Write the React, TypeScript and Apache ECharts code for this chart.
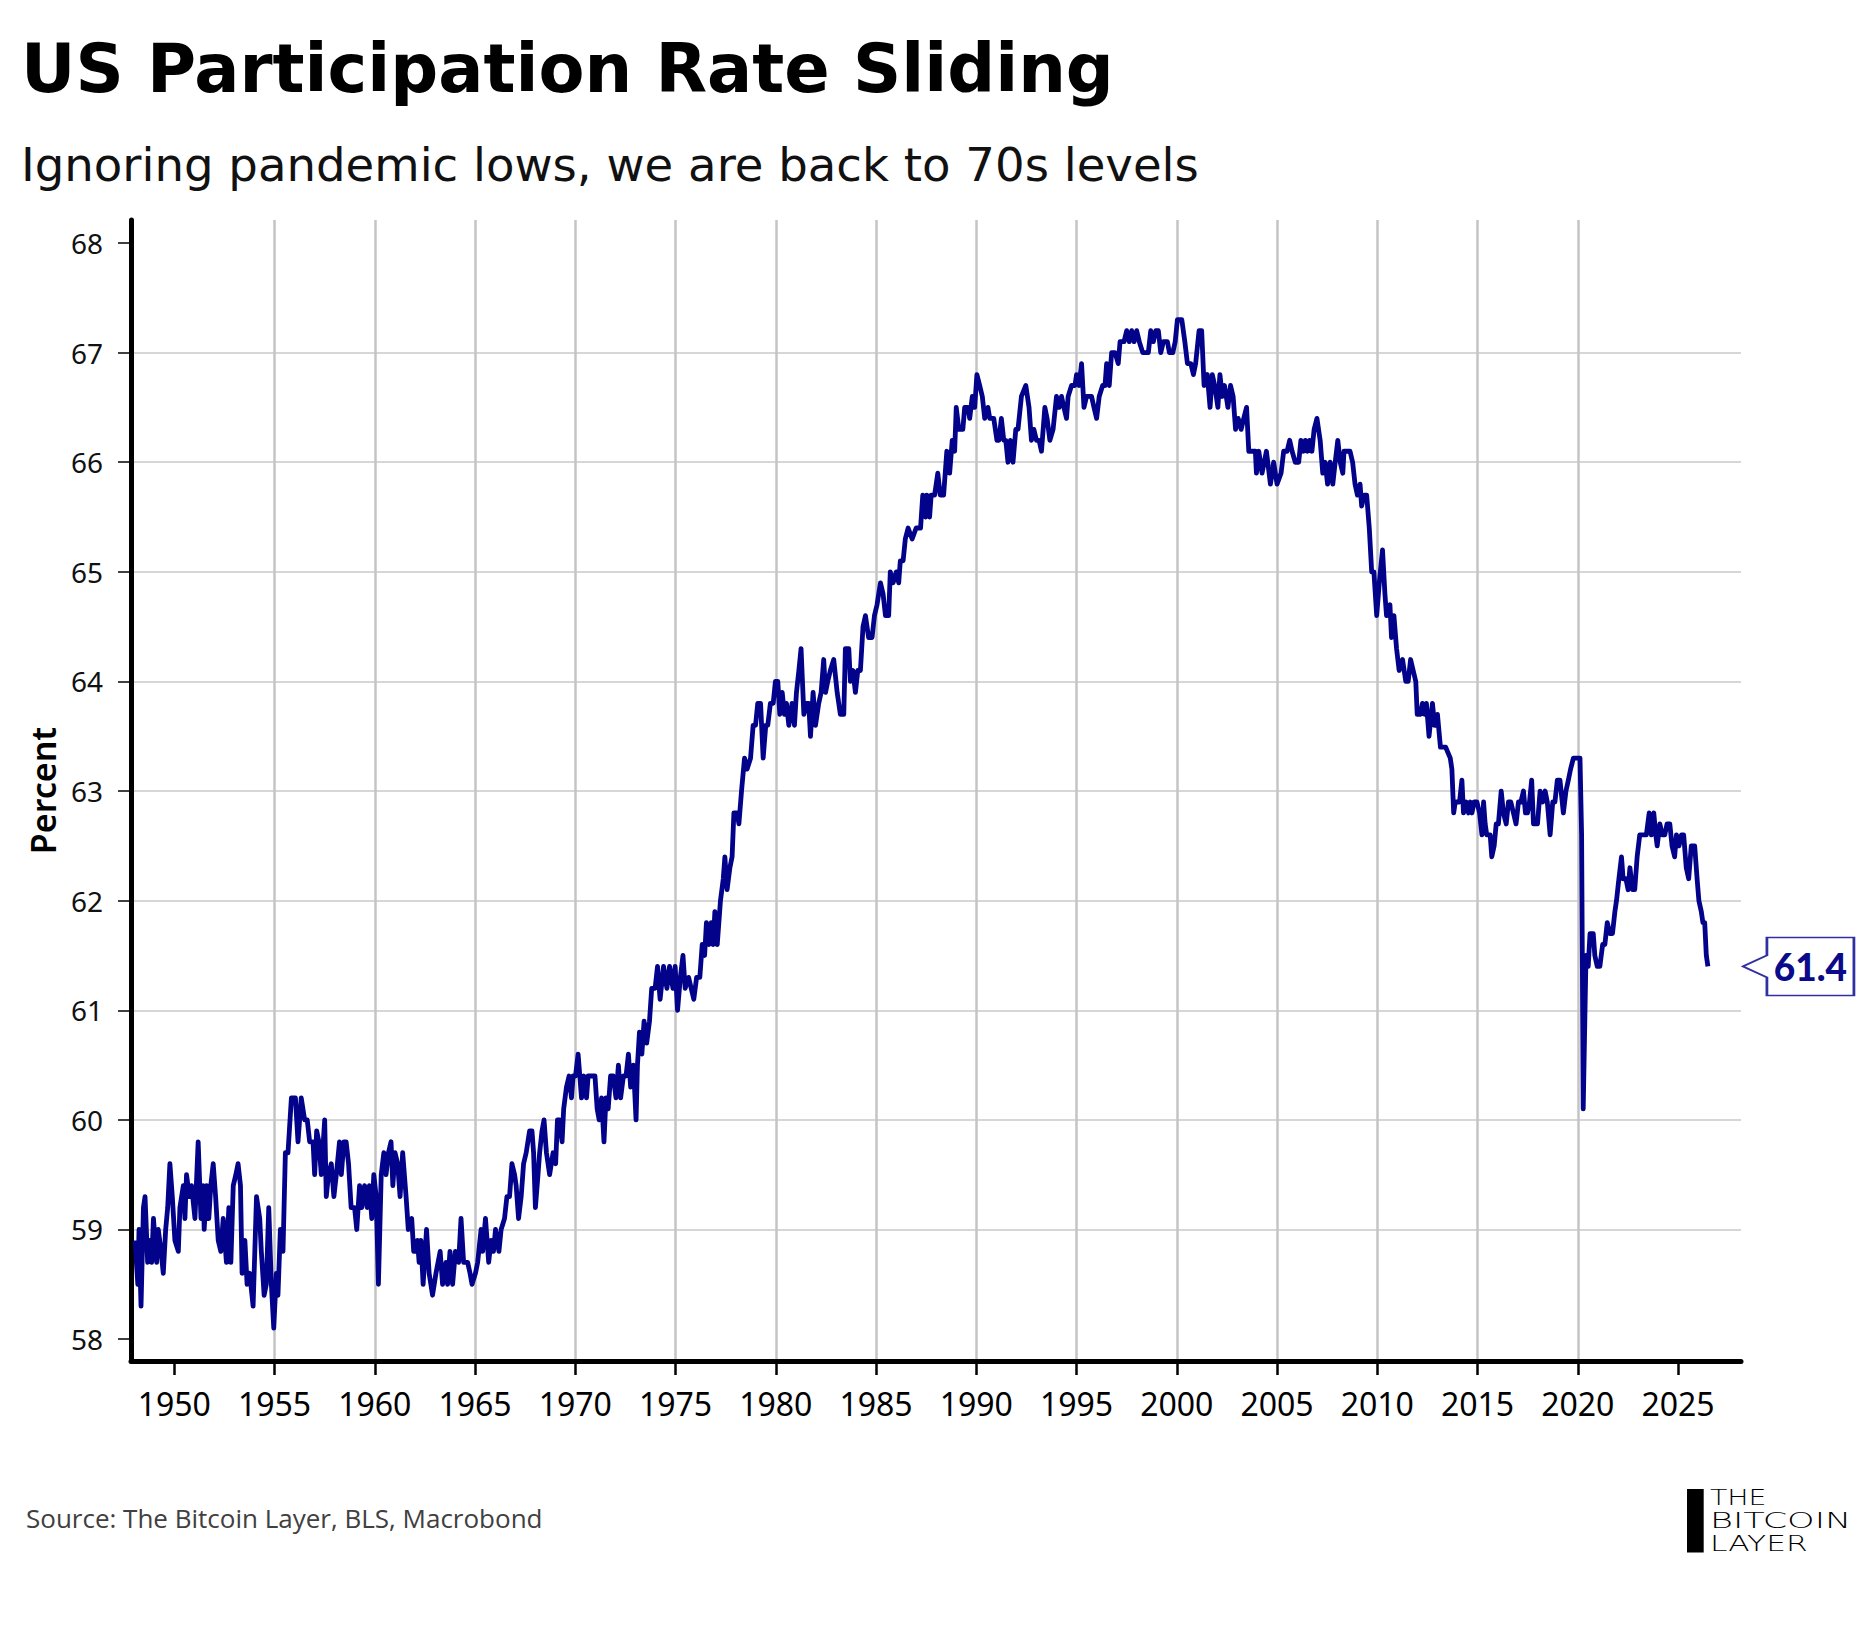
import React, { useEffect, useRef } from "react";
import * as echarts from "echarts";

const TITLE = "US Participation Rate Sliding";
const SUBTITLE = "Ignoring pandemic lows, we are back to 70s levels";
const SOURCE = "Source: The Bitcoin Layer, BLS, Macrobond";
const Y_NAME = "Percent";
const LOGO_LINES = ["THE", "BITCOIN", "LAYER"];

const X_TICKS = [1950, 1955, 1960, 1965, 1970, 1975, 1980, 1985, 1990, 1995, 2000, 2005, 2010, 2015, 2020, 2025];
const Y_TICKS = [58, 59, 60, 61, 62, 63, 64, 65, 66, 67, 68];

// [decimal year, participation rate %]
const SEG_1948_1961 = [
  [1948.04, 58.9], [1948.18, 58.5], [1948.24, 59.0], [1948.34, 58.3], [1948.46, 59.2], [1948.54, 59.3], [1948.67, 58.7], [1948.79, 58.9], [1948.87, 58.7], [1948.96, 59.1],
  [1949.12, 58.7], [1949.2, 59.0], [1949.34, 58.8], [1949.45, 58.6], [1949.57, 59.0], [1949.67, 59.2], [1949.78, 59.6], [1949.9, 59.3], [1950.03, 58.9], [1950.2, 58.8],
  [1950.28, 59.2], [1950.45, 59.4], [1950.53, 59.1], [1950.61, 59.5], [1950.75, 59.3], [1950.86, 59.4], [1951.03, 59.1], [1951.19, 59.8], [1951.33, 59.1], [1951.44, 59.4],
  [1951.49, 59.0], [1951.61, 59.4], [1951.72, 59.1], [1951.82, 59.4], [1951.94, 59.6], [1952.06, 59.3], [1952.19, 58.9], [1952.32, 58.8], [1952.44, 59.1], [1952.6, 58.7],
  [1952.72, 59.2], [1952.82, 58.7], [1952.94, 59.4], [1953.07, 59.5], [1953.18, 59.6], [1953.3, 59.4], [1953.38, 58.6], [1953.52, 58.9], [1953.63, 58.5], [1953.76, 58.6],
  [1953.93, 58.3], [1954.1, 59.3], [1954.26, 59.1], [1954.34, 58.8], [1954.48, 58.4], [1954.59, 58.5], [1954.71, 59.2], [1954.84, 58.5], [1954.96, 58.1], [1955.09, 58.6],
  [1955.17, 58.4], [1955.29, 59.0], [1955.42, 58.8], [1955.54, 59.7], [1955.67, 59.7], [1955.84, 60.2], [1956.04, 60.2], [1956.17, 59.8], [1956.33, 60.2], [1956.5, 60.0],
  [1956.63, 60.0], [1956.75, 59.8], [1956.92, 59.8], [1957.0, 59.5], [1957.1, 59.9], [1957.21, 59.8], [1957.33, 59.5], [1957.5, 60.0], [1957.58, 59.3], [1957.69, 59.5],
  [1957.83, 59.6], [1957.96, 59.3], [1958.08, 59.5], [1958.24, 59.8], [1958.33, 59.5], [1958.46, 59.8], [1958.57, 59.8], [1958.69, 59.6], [1958.82, 59.2], [1958.99, 59.2],
  [1959.1, 59.0], [1959.24, 59.4], [1959.35, 59.2], [1959.49, 59.4], [1959.62, 59.2], [1959.73, 59.4], [1959.85, 59.1], [1959.95, 59.5], [1960.07, 59.3], [1960.18, 58.5],
  [1960.32, 59.5], [1960.45, 59.7], [1960.56, 59.5], [1960.68, 59.7], [1960.81, 59.8], [1960.9, 59.4], [1961.01, 59.7], [1961.14, 59.6], [1961.26, 59.3], [1961.39, 59.7],
  [1961.56, 59.3], [1961.67, 59.0], [1961.84, 59.1], [1961.94, 58.8],
];

const SEG_1962_1975 = [
  [1962.05, 58.8], [1962.13, 58.9], [1962.21, 58.7], [1962.3, 58.9], [1962.41, 58.5], [1962.58, 59.0], [1962.71, 58.6], [1962.88, 58.4], [1963.05, 58.6], [1963.26, 58.8],
  [1963.38, 58.5], [1963.55, 58.7], [1963.63, 58.5], [1963.75, 58.8], [1963.88, 58.5], [1964.02, 58.8], [1964.18, 58.7], [1964.3, 59.1], [1964.43, 58.7], [1964.63, 58.7],
  [1964.75, 58.6], [1964.85, 58.5], [1965.02, 58.6], [1965.13, 58.7], [1965.3, 59.0], [1965.38, 58.8], [1965.52, 59.1], [1965.68, 58.7], [1965.8, 58.9], [1965.92, 58.8],
  [1966.02, 59.0], [1966.19, 58.8], [1966.3, 59.0], [1966.47, 59.1], [1966.59, 59.3], [1966.72, 59.3], [1966.84, 59.6], [1966.97, 59.5], [1967.05, 59.4], [1967.17, 59.1],
  [1967.3, 59.3], [1967.42, 59.6], [1967.55, 59.7], [1967.72, 59.9], [1967.84, 59.9], [1967.92, 59.7], [1968.01, 59.2], [1968.14, 59.5], [1968.22, 59.7], [1968.34, 59.9],
  [1968.44, 60.0], [1968.56, 59.7], [1968.72, 59.5], [1968.89, 59.7], [1969.02, 59.6], [1969.11, 60.0], [1969.22, 60.0], [1969.34, 59.8], [1969.42, 60.1], [1969.56, 60.3],
  [1969.69, 60.4], [1969.81, 60.2], [1969.89, 60.4], [1970.01, 60.4], [1970.14, 60.6], [1970.31, 60.2], [1970.43, 60.4], [1970.56, 60.2], [1970.64, 60.4], [1970.81, 60.4],
  [1970.98, 60.4], [1971.09, 60.1], [1971.19, 60.0], [1971.31, 60.2], [1971.43, 59.8], [1971.53, 60.2], [1971.64, 60.1], [1971.76, 60.4], [1971.89, 60.4], [1972.03, 60.2],
  [1972.15, 60.5], [1972.26, 60.2], [1972.4, 60.4], [1972.53, 60.4], [1972.65, 60.6], [1972.76, 60.3], [1972.9, 60.5], [1973.03, 60.0], [1973.1, 60.5], [1973.2, 60.8],
  [1973.32, 60.6], [1973.43, 60.9], [1973.56, 60.7], [1973.7, 60.9], [1973.81, 61.2], [1973.98, 61.2], [1974.1, 61.4], [1974.23, 61.1], [1974.4, 61.4], [1974.57, 61.2],
  [1974.7, 61.4], [1974.87, 61.2], [1974.98, 61.4], [1975.1, 61.0], [1975.24, 61.3], [1975.37, 61.5], [1975.48, 61.2], [1975.65, 61.3],
];

const SEG_1976_1987 = [
  [1975.91, 61.1], [1976.05, 61.3], [1976.21, 61.3], [1976.33, 61.6], [1976.45, 61.5], [1976.54, 61.8], [1976.66, 61.6], [1976.78, 61.8], [1976.88, 61.6], [1976.96, 61.9],
  [1977.08, 61.6], [1977.24, 62.0], [1977.38, 62.2], [1977.46, 62.4], [1977.57, 62.1], [1977.71, 62.3], [1977.82, 62.4], [1977.91, 62.8], [1978.07, 62.8], [1978.16, 62.7],
  [1978.29, 63.0], [1978.44, 63.3], [1978.57, 63.2], [1978.74, 63.3], [1978.87, 63.6], [1978.99, 63.6], [1979.1, 63.8], [1979.24, 63.8], [1979.37, 63.3], [1979.5, 63.6],
  [1979.6, 63.6], [1979.73, 63.8], [1979.87, 63.8], [1979.98, 64.0], [1980.1, 64.0], [1980.2, 63.7], [1980.32, 63.9], [1980.43, 63.7], [1980.53, 63.8], [1980.65, 63.6],
  [1980.81, 63.8], [1980.93, 63.6], [1981.03, 63.9], [1981.15, 64.1], [1981.26, 64.3], [1981.4, 63.7], [1981.53, 63.8], [1981.64, 63.8], [1981.73, 63.5], [1981.86, 63.9],
  [1981.98, 63.6], [1982.14, 63.8], [1982.26, 63.9], [1982.39, 64.2], [1982.48, 63.9], [1982.59, 64.0], [1982.72, 64.1], [1982.89, 64.2], [1983.06, 63.9], [1983.22, 63.7],
  [1983.39, 63.7], [1983.47, 64.3], [1983.64, 64.3], [1983.72, 64.0], [1983.85, 64.1], [1983.97, 63.9], [1984.09, 64.1], [1984.22, 64.1], [1984.35, 64.5], [1984.47, 64.6],
  [1984.63, 64.4], [1984.8, 64.4], [1984.92, 64.6], [1985.05, 64.7], [1985.22, 64.9], [1985.35, 64.8], [1985.47, 64.6], [1985.63, 64.6], [1985.71, 65.0], [1985.85, 64.9],
  [1986.01, 65.0], [1986.13, 64.9], [1986.21, 65.1], [1986.35, 65.1], [1986.46, 65.3], [1986.6, 65.4], [1986.8, 65.3], [1987.0, 65.4],
];

const SEG_1987_2000 = [
  [1987.22, 65.4], [1987.33, 65.7], [1987.47, 65.5], [1987.53, 65.7], [1987.67, 65.5], [1987.75, 65.7], [1987.92, 65.7], [1988.08, 65.9], [1988.2, 65.7], [1988.37, 65.7],
  [1988.53, 66.1], [1988.67, 65.9], [1988.8, 66.2], [1988.92, 66.1], [1989.0, 66.5], [1989.13, 66.3], [1989.33, 66.3], [1989.42, 66.5], [1989.58, 66.5], [1989.67, 66.4],
  [1989.8, 66.6], [1989.92, 66.5], [1990.03, 66.8], [1990.17, 66.7], [1990.3, 66.6], [1990.42, 66.4], [1990.58, 66.5], [1990.67, 66.4], [1990.87, 66.4], [1991.03, 66.2],
  [1991.13, 66.2], [1991.25, 66.4], [1991.37, 66.2], [1991.47, 66.2], [1991.58, 66.0], [1991.7, 66.2], [1991.83, 66.0], [1991.97, 66.3], [1992.08, 66.3], [1992.25, 66.6],
  [1992.47, 66.7], [1992.63, 66.5], [1992.75, 66.2], [1992.87, 66.3], [1993.0, 66.2], [1993.13, 66.2], [1993.25, 66.1], [1993.42, 66.5], [1993.53, 66.4], [1993.67, 66.2],
  [1993.83, 66.3], [1994.0, 66.6], [1994.13, 66.5], [1994.25, 66.6], [1994.37, 66.5], [1994.5, 66.4], [1994.58, 66.6], [1994.75, 66.7], [1994.92, 66.7], [1995.0, 66.8],
  [1995.13, 66.7], [1995.25, 66.9], [1995.37, 66.5], [1995.5, 66.6], [1995.75, 66.6], [1995.87, 66.5], [1996.0, 66.4], [1996.13, 66.6], [1996.3, 66.7], [1996.42, 66.7],
  [1996.5, 66.9], [1996.63, 66.7], [1996.75, 67.0], [1996.92, 67.0], [1997.08, 66.9], [1997.17, 67.1], [1997.37, 67.1], [1997.5, 67.2], [1997.63, 67.1], [1997.75, 67.2],
  [1997.87, 67.1], [1998.0, 67.2], [1998.13, 67.1], [1998.3, 67.0], [1998.58, 67.0], [1998.7, 67.2], [1998.83, 67.1], [1998.95, 67.2], [1999.08, 67.2], [1999.2, 67.0],
  [1999.33, 67.1], [1999.53, 67.1], [1999.63, 67.0], [1999.8, 67.0], [1999.92, 67.1], [2000.03, 67.3], [2000.25, 67.3],
];

const SEG_2000_2013 = [
  [2000.4, 67.1], [2000.53, 66.9], [2000.7, 66.9], [2000.83, 66.8], [2000.94, 66.9], [2001.11, 67.2], [2001.24, 67.2], [2001.36, 66.7], [2001.52, 66.8], [2001.66, 66.5],
  [2001.77, 66.8], [2001.89, 66.7], [2002.05, 66.5], [2002.15, 66.8], [2002.27, 66.6], [2002.38, 66.7], [2002.55, 66.5], [2002.68, 66.7], [2002.81, 66.6], [2002.93, 66.3],
  [2003.06, 66.4], [2003.21, 66.3], [2003.34, 66.4], [2003.48, 66.5], [2003.59, 66.1], [2003.76, 66.1], [2003.92, 66.1], [2003.97, 65.9], [2004.09, 66.1], [2004.25, 65.9],
  [2004.47, 66.1], [2004.67, 65.8], [2004.83, 66.0], [2005.0, 65.8], [2005.2, 65.9], [2005.33, 66.1], [2005.5, 66.1], [2005.63, 66.2], [2005.75, 66.1], [2005.91, 66.0],
  [2006.08, 66.0], [2006.19, 66.2], [2006.32, 66.1], [2006.41, 66.2], [2006.52, 66.1], [2006.62, 66.2], [2006.74, 66.1], [2006.85, 66.3], [2006.99, 66.4], [2007.15, 66.2],
  [2007.28, 65.9], [2007.4, 66.0], [2007.52, 65.8], [2007.65, 66.0], [2007.78, 65.8], [2007.9, 66.0], [2008.03, 66.2], [2008.15, 66.0], [2008.28, 65.9], [2008.34, 66.1],
  [2008.48, 66.1], [2008.64, 66.1], [2008.77, 66.0], [2008.89, 65.8], [2009.01, 65.7], [2009.14, 65.8], [2009.22, 65.6], [2009.34, 65.7], [2009.47, 65.7], [2009.6, 65.4],
  [2009.72, 65.0], [2009.83, 65.0], [2009.97, 64.6], [2010.1, 64.9], [2010.26, 65.2], [2010.38, 64.8], [2010.46, 64.6], [2010.63, 64.7], [2010.71, 64.4], [2010.83, 64.6],
  [2010.96, 64.3], [2011.09, 64.1], [2011.26, 64.2], [2011.42, 64.0], [2011.54, 64.0], [2011.66, 64.2], [2011.79, 64.1], [2011.92, 64.0], [2011.99, 63.7], [2012.15, 63.7],
  [2012.25, 63.8], [2012.37, 63.7], [2012.45, 63.8], [2012.58, 63.5], [2012.75, 63.8], [2012.86, 63.6], [2013.0, 63.7], [2013.15, 63.4], [2013.41, 63.4],
];

const SEG_2013_2026 = [
  [2013.64, 63.3], [2013.72, 63.2], [2013.81, 62.8], [2013.89, 62.9], [2014.0, 62.9], [2014.1, 62.9], [2014.22, 63.1], [2014.3, 62.8], [2014.44, 62.9], [2014.55, 62.8],
  [2014.64, 62.9], [2014.72, 62.8], [2014.83, 62.9], [2014.97, 62.9], [2015.1, 62.8], [2015.22, 62.6], [2015.3, 62.9], [2015.38, 62.7], [2015.46, 62.6], [2015.63, 62.6],
  [2015.71, 62.4], [2015.83, 62.5], [2015.93, 62.7], [2016.04, 62.7], [2016.18, 63.0], [2016.29, 62.8], [2016.43, 62.7], [2016.54, 62.9], [2016.66, 62.9], [2016.79, 62.8],
  [2016.92, 62.7], [2017.04, 62.9], [2017.16, 62.9], [2017.29, 63.0], [2017.39, 62.8], [2017.49, 62.8], [2017.59, 62.9], [2017.7, 63.1], [2017.79, 62.7], [2017.99, 62.7],
  [2018.12, 63.0], [2018.25, 62.9], [2018.37, 63.0], [2018.48, 62.9], [2018.62, 62.6], [2018.75, 62.9], [2018.86, 62.9], [2018.98, 63.1], [2019.11, 63.1], [2019.28, 62.8],
  [2019.41, 63.0], [2019.53, 63.1], [2019.64, 63.2], [2019.78, 63.3], [2019.94, 63.3], [2020.11, 63.3], [2020.19, 62.6], [2020.27, 60.1], [2020.41, 61.5], [2020.52, 61.4],
  [2020.61, 61.7], [2020.77, 61.7], [2020.85, 61.5], [2020.97, 61.4], [2021.1, 61.4], [2021.24, 61.6], [2021.35, 61.6], [2021.47, 61.8], [2021.6, 61.7], [2021.73, 61.7],
  [2021.85, 61.9], [2021.93, 62.0], [2022.05, 62.2], [2022.18, 62.4], [2022.26, 62.2], [2022.4, 62.2], [2022.51, 62.1], [2022.6, 62.3], [2022.73, 62.1], [2022.84, 62.1],
  [2022.96, 62.4], [2023.09, 62.6], [2023.21, 62.6], [2023.42, 62.6], [2023.56, 62.8], [2023.67, 62.6], [2023.79, 62.8], [2023.89, 62.6], [2023.96, 62.5], [2024.09, 62.7],
  [2024.22, 62.6], [2024.34, 62.6], [2024.45, 62.7], [2024.59, 62.7], [2024.7, 62.5], [2024.83, 62.4], [2024.92, 62.6], [2025.05, 62.5], [2025.17, 62.6], [2025.28, 62.6],
  [2025.41, 62.3], [2025.53, 62.2], [2025.66, 62.5], [2025.83, 62.5], [2025.95, 62.2], [2026.04, 62.0], [2026.16, 61.9], [2026.24, 61.8], [2026.33, 61.8], [2026.41, 61.5],
  [2026.49, 61.4],
];

const SERIES_DATA = [
  ...SEG_1948_1961,
  ...SEG_1962_1975,
  ...SEG_1976_1987,
  ...SEG_1987_2000,
  ...SEG_2000_2013,
  ...SEG_2013_2026,
];

const X_MIN = 1947.84;
const X_MAX = 2028.14;
const Y_MIN = 57.8;
const Y_MAX = 68.21;

const LINE_COLOR = "#02028b";

export default function App() {
  const ref = useRef<HTMLDivElement>(null);

  useEffect(() => {
    document.body.style.margin = "0";
    const chart = echarts.init(ref.current as HTMLDivElement, null, { renderer: "svg" });
    const last = SERIES_DATA[SERIES_DATA.length - 1];

    const logoText = (text: string, y: number, scaleX: number) => ({
      type: "text",
      x: 1710,
      y,
      scaleX,
      style: { text, fontFamily: "DejaVu Sans", fontWeight: 200, fontSize: 21, fill: "#000000", textVerticalAlign: "middle" },
    });

    chart.setOption({
      animation: false,
      backgroundColor: "#ffffff",
      title: [
        {
          text: TITLE,
          left: 21,
          top: 35,
          padding: 0,
          textStyle: { fontFamily: "DejaVu Sans", fontWeight: "bold", fontSize: 67, color: "#000000" },
        },
        {
          text: SUBTITLE,
          left: 21,
          top: 141,
          padding: 0,
          textStyle: { fontFamily: "DejaVu Sans", fontWeight: "normal", fontSize: 46.6, color: "#111111" },
        },
      ],
      grid: { left: 131, right: 134, top: 220, bottom: 264, outerBoundsMode: "none" },
      xAxis: {
        type: "value",
        min: X_MIN,
        max: X_MAX,
        axisLine: { show: true, onZero: false, lineStyle: { color: "#000000", width: 5 } },
        axisTick: { show: true, length: 14, customValues: X_TICKS, lineStyle: { color: "#000000", width: 2.5 } },
        axisLabel: {
          customValues: X_TICKS,
          margin: 26,
          fontFamily: "Noto Sans",
          fontSize: 32,
          color: "#000000",
          formatter: (v: number) => String(Math.round(v)),
        },
        splitLine: { show: true, showMinLine: false, showMaxLine: false, lineStyle: { color: "#c4c4c4", width: 2.5 } },
      },
      yAxis: {
        type: "value",
        min: Y_MIN,
        max: Y_MAX,
        name: Y_NAME,
        nameLocation: "middle",
        nameGap: 71,
        nameTextStyle: { fontFamily: "Noto Sans", fontSize: 34, fontWeight: 600, color: "#000000" },
        axisLine: { show: true, onZero: false, lineStyle: { color: "#000000", width: 5 } },
        axisTick: { show: true, length: 13, customValues: Y_TICKS, lineStyle: { color: "#000000", width: 1.5 } },
        axisLabel: {
          customValues: Y_TICKS,
          margin: 28,
          fontFamily: "Noto Sans",
          fontSize: 28,
          color: "#111111",
          formatter: (v: number) => String(Math.round(v)),
        },
        splitLine: { show: true, showMinLine: false, showMaxLine: false, lineStyle: { color: "#d6d6d6", width: 2.2 } },
      },
      series: [
        {
          type: "line",
          data: SERIES_DATA,
          showSymbol: false,
          symbol: "none",
          lineStyle: { color: LINE_COLOR, width: 4.8, join: "round" },
          z: 3,
          markPoint: {
            symbol: "path://M0,29L24,18L24,0L111,0L111,58L24,58L24,40Z",
            symbolSize: [111, 58],
            symbolOffset: [90.5, 0],
            itemStyle: { color: "#ffffff", borderColor: "#3030a4", borderWidth: 2 },
            label: {
              show: true,
              position: "inside",
              offset: [12, 0],
              fontFamily: "Lato",
              fontWeight: 900,
              fontSize: 37,
              color: "#0a0a8a",
              formatter: (p: any) => Number(p.value).toFixed(1),
            },
            data: [{ coord: last, value: last[1] }],
          },
        },
      ],
      graphic: [
        {
          type: "text",
          x: 26,
          y: 1518,
          style: {
            text: SOURCE,
            fontFamily: "Open Sans",
            fontSize: 26,
            fill: "#404040",
            textVerticalAlign: "middle",
          },
        },
        {
          type: "rect",
          shape: { x: 1687, y: 1489, width: 16.7, height: 63.5 },
          style: { fill: "#000000" },
        },
        logoText(LOGO_LINES[0], 1497.5, 1.35),
        logoText(LOGO_LINES[1], 1520.5, 1.67),
        logoText(LOGO_LINES[2], 1544, 1.49),
      ],
    });

    return () => chart.dispose();
  }, []);

  return <div ref={ref} style={{ width: 1875, height: 1625 }} />;
}
